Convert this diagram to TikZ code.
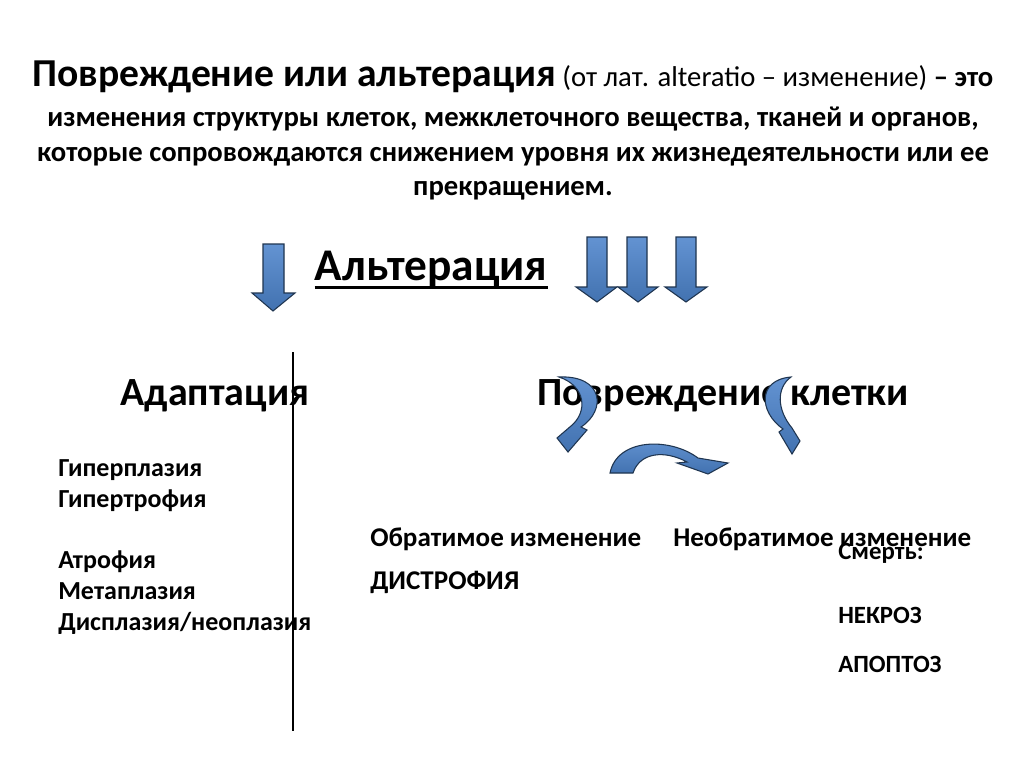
\documentclass[tikz,border=0pt]{standalone}
\usepackage{fontspec}
\setmainfont{Carlito}
\definecolor{arrline}{HTML}{1F3550}
\definecolor{arrtop}{HTML}{6393D2}
\definecolor{arrbot}{HTML}{4272B0}
\newcommand{\fs}[1]{\fontsize{#1}{#1}\selectfont}
\begin{document}
\begin{tikzpicture}[x=0.75pt,y=-0.75pt,
  arr/.style={draw=arrline, line width=0.8pt, top color=arrtop, bottom color=arrbot, line join=miter},
  txt/.style={inner sep=0pt, anchor=base west, font=\bfseries\fs{19.5}},
  mid/.style={inner sep=0pt, anchor=base west, font=\bfseries\fs{20.3}},
  sml/.style={inner sep=0pt, anchor=base west, font=\bfseries\fs{18.6}},
  ttl/.style={inner sep=0pt, anchor=base, font=\bfseries\fs{21.5}},
  head/.style={inner sep=0pt, anchor=base, font=\bfseries\fs{30}}]
\useasboundingbox (0,0) rectangle (1024,767);
\fill[white] (0,0) rectangle (1024,767);
% title
\node[ttl] (t1) at (513,86) {{\fs{29.7}Повреждение или альтерация} {\mdseries(от лат. alteratio – изменение)} – это};
\node[ttl] (t2) at (513,127) {изменения структуры клеток, межклеточного вещества, тканей и органов,};
\node[ttl] (t3) at (513,161) {которые сопровождаются снижением уровня их жизнедеятельности или ее};
\node[ttl] (t4) at (513,195) {прекращением.};
% straight arrows
\path[arr] (263,244) -- (284,244) -- (284,293) -- (295,293) -- (273,311) -- (252,293) -- (263,293) -- cycle;
\path[arr] (587,237) -- (607,237) -- (607,287) -- (617,287) -- (597,302) -- (576,287) -- (587,287) -- cycle;
\path[arr] (627,237) -- (647,237) -- (647,287) -- (658,287) -- (638,302) -- (618,287) -- (627,287) -- cycle;
\path[arr] (676,237) -- (696,237) -- (696,287) -- (707,287) -- (686,302) -- (665,287) -- (676,287) -- cycle;
% Alteration
\node[head, font=\bfseries\fs{34}] (alt) at (431,280) {Альтерация};
\draw[line width=2.2pt] ([yshift=-5.5pt]alt.base west) -- ([yshift=-5.5pt]alt.base east);
\node[head] (adapt) at (215,405) {Адаптация};
\node[head] (damage) at (723,405) {Повреждение клетки};
% divider
\coordinate (vtop) at (293,352);
\coordinate (vbot) at (293,731);
\draw[line width=0.9pt] (vtop) -- (vbot);
% curved arrows
\path[arr] (559,377) .. controls (603,375) and (607,410) .. (581,427)
  -- (587,430) -- (568,452) -- (557,438) -- (571,426)
  .. controls (588,412) and (586,386) .. cycle;
\path[arr] (791,377) .. controls (757,380) and (759,412) .. (783,429)
  -- (779,432) -- (792,454) -- (800,441) -- (792,428)
  .. controls (777,410) and (776,388) .. cycle;
\path[arr] (610,473) .. controls (617,438) and (670,437) .. (698,458)
  -- (728,463) -- (708,474) -- (677,463) -- (687,462)
  .. controls (665,450) and (640,452) .. (633,473) -- cycle;
% lists
\node[txt] (l1) at (58,476) {Гиперплазия};
\node[txt] (l2) at (58,507) {Гипертрофия};
\node[txt] (l3) at (58,568) {Атрофия};
\node[txt] (l4) at (58,599) {Метаплазия};
\node[txt] (l5) at (58,630) {Дисплазия/неоплазия};
\node[mid] (rev) at (370,546) {Обратимое изменение};
\node[mid] (dys) at (370,589) {ДИСТРОФИЯ};
\node[mid] (irr) at (673,546) {Необратимое изменение};
\node[sml] (death) at (838,559) {Смерть:};
\node[sml] (nec) at (838,623) {НЕКРОЗ};
\node[sml] (apo) at (838,672) {АПОПТОЗ};
\end{tikzpicture}
\end{document}
